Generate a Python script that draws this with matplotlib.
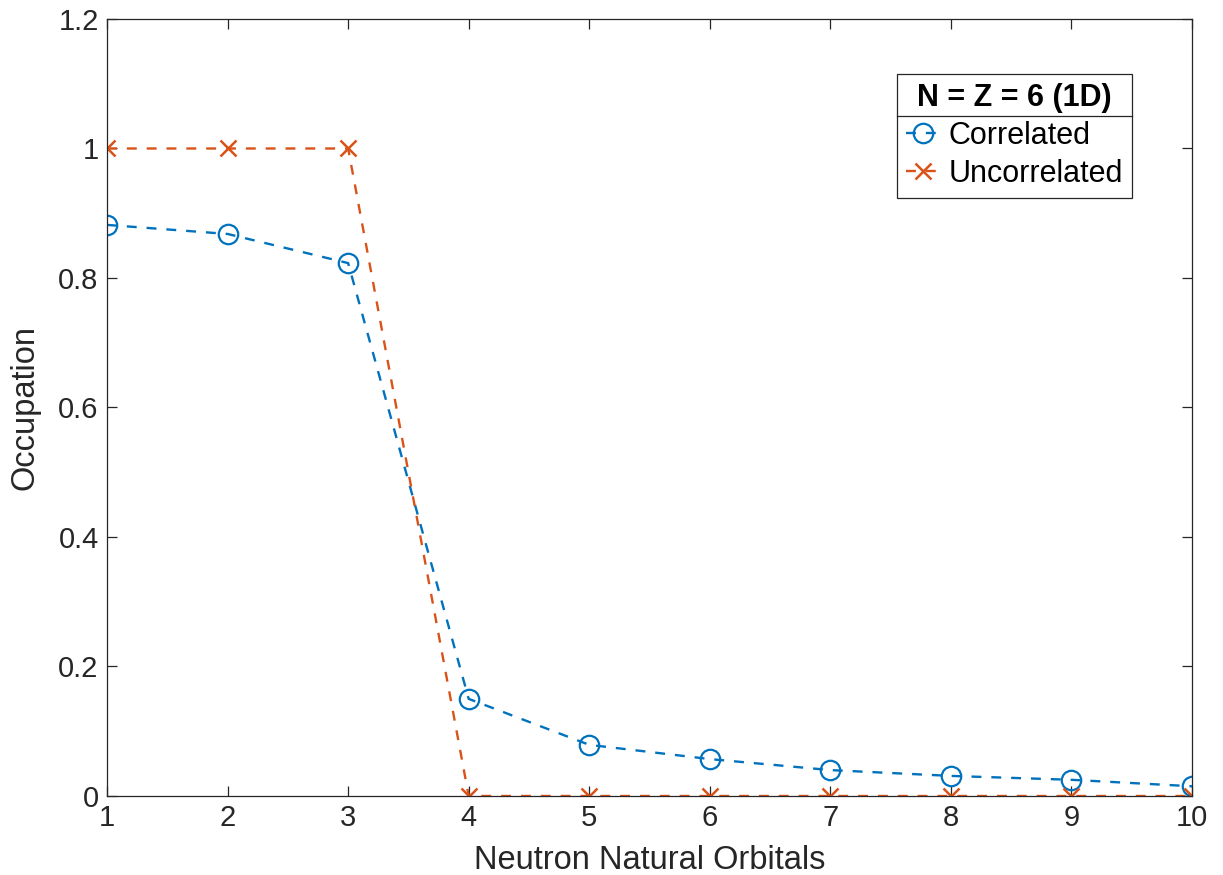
import numpy as np
import matplotlib.pyplot as plt
from matplotlib.lines import Line2D

plt.rcParams['font.family'] = ['Liberation Sans', 'DejaVu Sans']

orbitals = [1, 2, 3, 4, 5, 6, 7, 8, 9, 10]
correlated = [0.882, 0.868, 0.823, 0.150, 0.079, 0.057, 0.040, 0.031, 0.025, 0.015]
uncorrelated = [1, 1, 1, 0, 0, 0, 0, 0, 0, 0]

blue = '#0072BD'
orange = '#D95319'
dark = '#262626'

fig = plt.figure(figsize=(12.23, 8.75), dpi=100)
ax = fig.add_axes([0.0875, 0.0903, 0.8872, 0.888])

ax.plot(orbitals, correlated, '--o', color=blue, lw=1.7, ms=14, dashes=(4.2, 4.2),
        mfc='none', mew=1.6, label='Correlated')
ax.plot(orbitals, uncorrelated, '--x', color=orange, lw=1.7, ms=11, dashes=(4.2, 4.2),
        mew=1.8, label='Uncorrelated')

ax.set_xlim(1, 10)
ax.set_ylim(0, 1.2)
ax.set_xticks(range(1, 11))
ax.set_yticks([0, 0.2, 0.4, 0.6, 0.8, 1.0, 1.2])
ax.set_yticklabels(['0', '0.2', '0.4', '0.6', '0.8', '1', '1.2'])
ax.tick_params(direction='in', top=True, right=True, length=7, width=0.9,
               labelsize=21, colors=dark, pad=6)
for s in ax.spines.values():
    s.set_color(dark)
    s.set_linewidth(0.9)
ax.set_xlabel('Neutron Natural Orbitals', fontsize=23.5, color=dark, labelpad=9)
ax.set_ylabel('Occupation', fontsize=23.5, color=dark, labelpad=13)

leg = ax.legend(title='N = Z = 6 (1D)', loc='upper right',
                bbox_to_anchor=(0.9447, 0.929), borderaxespad=0, fontsize=22,
                title_fontproperties={'weight': 'bold', 'size': 22},
                handlelength=1.15, handletextpad=0.25, borderpad=0.3,
                labelspacing=0.25, fancybox=False, framealpha=1,
                edgecolor=dark)
leg.get_frame().set_linewidth(0.9)

# separator line under legend title
fig.canvas.draw()
bb = leg.get_window_extent()
tb = leg.get_title().get_window_extent()
ysep = tb.y0 - 3
fig.add_artist(Line2D([bb.x0, bb.x1], [ysep, ysep], transform=None,
                      color=dark, lw=0.9))

fig.savefig('out.png', dpi=100)
